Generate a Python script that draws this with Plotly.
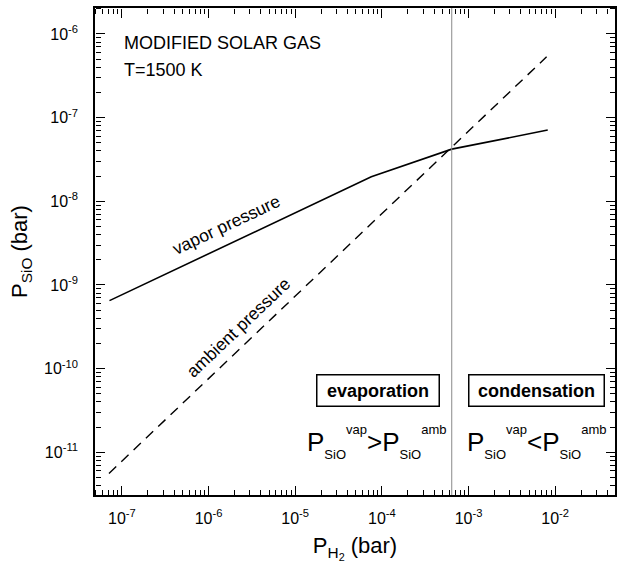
import plotly.graph_objects as go

# ---- data ----
p_h2_vap = [7.2e-8, 7.55e-5, 6.4e-4, 8.2e-3]
p_sio_vap = [6.5e-10, 1.96e-8, 4.2e-8, 7.1e-8]
p_h2_amb = [7.1e-8, 7.96e-3]
p_sio_amb = [5.6e-12, 5.33e-7]
p_h2_boundary = [6.4e-4]

x_tickvals = [1e-7, 1e-6, 1e-5, 1e-4, 1e-3, 1e-2]
x_ticktext = ["10<sup>-7</sup>", "10<sup>-6</sup>", "10<sup>-5</sup>",
              "10<sup>-4</sup>", "10<sup>-3</sup>", "10<sup>-2</sup>"]
y_tickvals = [1e-11, 1e-10, 1e-9, 1e-8, 1e-7, 1e-6]
y_ticktext = ["10<sup>-11</sup>", "10<sup>-10</sup>", "10<sup>-9</sup>",
              "10<sup>-8</sup>", "10<sup>-7</sup>", "10<sup>-6</sup>"]
x_range_log = [-7.31, -1.31]
y_range_log = [-11.51, -5.69]
x_decades = [-8, -7, -6, -5, -4, -3, -2]
y_decades = [-12, -11, -10, -9, -8, -7, -6]
minor_digits = [2, 3, 4, 5, 6, 7, 8, 9]

FONT = "Liberation Sans, Arial, Helvetica, sans-serif"

fig = go.Figure()
fig.add_trace(go.Scatter(x=p_h2_vap, y=p_sio_vap, mode="lines",
                         line=dict(color="black", width=1.6), showlegend=False))
fig.add_trace(go.Scatter(x=p_h2_amb, y=p_sio_amb, mode="lines",
                         line=dict(color="black", width=1.4, dash="10px,7px"),
                         showlegend=False))
fig.add_trace(go.Scatter(x=p_h2_boundary * 2,
                         y=[10 ** y_range_log[0], 10 ** y_range_log[1]],
                         mode="lines", line=dict(color="#8a8a8a", width=1),
                         showlegend=False))


def minor_vals(decades):
    return [d * 10.0 ** e for e in decades for d in minor_digits]


main_common = dict(
    type="log", showgrid=False, zeroline=False,
    showline=True, linecolor="black", linewidth=1.6, mirror=True,
    ticks="", tickmode="array",
    tickfont=dict(family=FONT, size=16, color="black"),
)

layout_axes = dict(
    xaxis=dict(**main_common, range=x_range_log,
               tickvals=x_tickvals, ticktext=x_ticktext,
               ticklabelstandoff=8,
               title=dict(text="P<sub>H<sub>2</sub></sub> (bar)",
                          font=dict(family=FONT, size=22, color="black"),
                          standoff=12)),
    yaxis=dict(**main_common, range=y_range_log,
               tickvals=y_tickvals, ticktext=y_ticktext,
               ticklabelstandoff=12,
               title=dict(text="P<sub>SiO</sub> (bar)",
                          font=dict(family=FONT, size=22, color="black"),
                          standoff=10)),
)

# tick-only overlay axes: their "outside" ticks point into the plot area
tick_common = dict(type="log", showgrid=False, zeroline=False, showline=False,
                   ticks="outside", tickcolor="black", tickmode="array",
                   showticklabels=False, anchor="free")
tick_specs = [
    # (x side, x position, y side, y position, major?)
    ("top", 0, "right", 0, True),
    ("top", 0, "right", 0, False),
    ("bottom", 1, "left", 1, True),
    ("bottom", 1, "left", 1, False),
]
for i, (xs, xp, ys, yp, major) in enumerate(tick_specs, start=2):
    tl, tw = (9, 1.3) if major else (5, 1)
    layout_axes[f"xaxis{i}"] = dict(
        **tick_common, overlaying="x", side=xs, position=xp, range=x_range_log,
        tickvals=x_tickvals if major else minor_vals(x_decades), ticklen=tl, tickwidth=tw)
    layout_axes[f"yaxis{i}"] = dict(
        **tick_common, overlaying="y", side=ys, position=yp, range=y_range_log,
        tickvals=y_tickvals if major else minor_vals(y_decades), ticklen=tl, tickwidth=tw)
    fig.add_trace(go.Scatter(x=[None], y=[None], mode="lines", xaxis=f"x{i}",
                             yaxis=f"y{i}", showlegend=False, hoverinfo="skip"))

fig.update_layout(**layout_axes)

BIG, SMALL = 26, 13


def big(t):
    return f'<span style="font-size:{BIG}px">{t}</span>'


def small(t):
    return f'<span style="font-size:{SMALL}px">{t}</span>'


def ineq(op):
    return (big("P") + "<sub>" + small("SiO") + "</sub><sup>" + small("vap") + "</sup>"
            + big(op) + big("P") + "<sub>" + small("SiO") + "</sub><sup>" + small("amb") + "</sup>")


def px(x):
    return (x - 95) / 520


def py(y):
    return (495 - y) / 487


ann = [
    dict(text="MODIFIED SOLAR GAS", x=px(122), y=py(43), xanchor="left", yanchor="middle",
         font=dict(size=18)),
    dict(text="T=1500 K", x=px(122), y=py(69.5), xanchor="left", yanchor="middle",
         font=dict(size=18)),
    dict(text="vapor pressure", x=px(226), y=py(225), textangle=-25.3,
         font=dict(size=17.5)),
    dict(text="ambient pressure", x=px(238), y=py(328), textangle=-43.5,
         font=dict(size=17.5)),
    dict(text="<b>evaporation</b>", x=px(378), y=py(390.5), font=dict(size=18),
         bordercolor="black", borderwidth=1.5, borderpad=4, width=113, height=22),
    dict(text="<b>condensation</b>", x=px(536.3), y=py(390.3), font=dict(size=18),
         bordercolor="black", borderwidth=1.5, borderpad=4, width=126, height=22),
    dict(text=ineq("&gt;"), x=px(376.7), y=py(442), font=dict(size=40)),
    dict(text=ineq("&lt;"), x=px(536.7), y=py(442), font=dict(size=40)),
]
for a in ann:
    a.setdefault("xanchor", "center")
    a.setdefault("yanchor", "middle")
    a["xref"] = "paper"
    a["yref"] = "paper"
    a["showarrow"] = False
    a["font"] = dict(family=FONT, color="black", **a["font"])
    fig.add_annotation(**a)

fig.update_layout(
    width=624, height=572,
    margin=dict(l=95, r=9, t=8, b=77, autoexpand=False),
    plot_bgcolor="rgba(0,0,0,0)", paper_bgcolor="white",
    font=dict(family=FONT, color="black"),
)

fig.write_html("out.html")
